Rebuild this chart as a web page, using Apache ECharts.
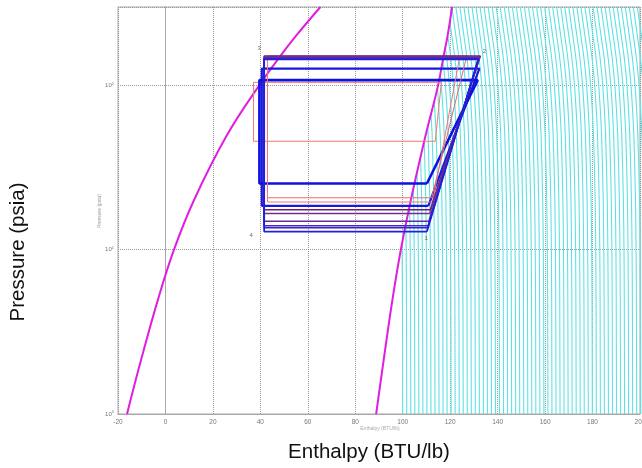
<!DOCTYPE html>
<html><head><meta charset="utf-8">
<script src="https://cdn.jsdelivr.net/npm/echarts@6/dist/echarts.min.js"></script>
<style>html,body{margin:0;padding:0;background:#fff}#c{width:642px;height:468px}</style>
</head><body><div id="c"></div>
<script>
// Saturation dome (pressure psia, enthalpy BTU/lb)
const SAT_P = [1, 2, 5, 10, 20, 50, 100, 150, 200, 300];
const SAT_LIQ_H = [-16.2, -10.8, -3.1, 3.6, 12.0, 26.0, 39.5, 48.3, 55.0, 65.3];
const SAT_VAP_H = [88.8, 91.7, 95.7, 99.2, 103.4, 109.7, 114.9, 117.2, 118.9, 120.8];
// Superheated isotherms: enthalpy at 1 psia, and how far each bends left at the SAT_P pressures
const ISO_BASE_H = [100.0, 101.7, 103.4, 105.1, 106.8, 108.5, 110.2, 111.9, 113.6, 115.3, 117.0, 118.7,
  120.4, 122.1, 123.8, 125.5, 127.2, 128.9, 130.6, 132.3, 134.0, 135.7, 137.4, 139.1, 140.8, 142.5,
  144.2, 145.9, 147.6, 149.3, 151.0, 152.7, 154.4, 156.1, 157.8, 159.5, 161.2, 162.9, 164.6, 166.3,
  168.0, 169.7, 171.4, 173.1, 174.8, 176.5, 178.2, 179.9, 181.6, 183.3, 185.0, 186.7, 188.4, 190.1,
  191.8, 193.5, 195.2, 196.9, 198.6, 200.3, 202.0, 203.7, 205.4];
const ISO_BEND = [0, 0.05, 0.12, 0.25, 0.5, 1.2, 2.4, 3.6, 4.8, 6.5];
// Refrigeration cycles: state 1 (h1, pLow), 2 (h2, pHigh), 3 (h3, pHigh), 4 (h3, pLow)
const CYCLE_H1 = [113.7, 110.8, 110.2, 112.2, 112.6, 111.6, 111.4, 111.0, 110.7, 110.5, 110.2];
const CYCLE_H2 = [116.3, 132.3, 131.6, 127.0, 124.0, 132.7, 132.5, 132.3, 132.0, 131.9, 131.8];
const CYCLE_H3 = [37.1, 40.6, 39.6, 43.0, 43.0, 41.6, 41.6, 41.6, 41.6, 41.6, 41.6];
const CYCLE_P_LOW = [45.7, 18.5, 25.3, 20.7, 19.5, 17.5, 16.6, 14.9, 14.0, 13.6, 12.9];
const CYCLE_P_HIGH = [104.3, 126.4, 107.7, 151, 149, 151, 149, 147.6, 146, 145, 144.1];
// State labels
const STATE_NAMES = ['1', '2', '3', '4'];
const STATE_H = [109.9, 134.4, 39.5, 36.1];
const STATE_P = [11.8, 161, 168, 12.2];

const CYCLE_STYLE = [
  {c: '#f07a6a', w: 1}, {c: '#1818e0', w: 2.2}, {c: '#1010e0', w: 2.6},
  {c: '#e86a6a', w: 1}, {c: '#e87878', w: 1},
  {c: '#6a2078', w: 1.5}, {c: '#7a2a88', w: 1.5}, {c: '#6a2aa0', w: 1.5},
  {c: '#4a28c0', w: 1.5}, {c: '#3522cc', w: 1.5}, {c: '#2020dc', w: 1.8}
];

const series = [];
ISO_BASE_H.forEach(b => {
  const pts = [];
  for (let i = 0; i < SAT_P.length; i++) {
    const h = b - ISO_BEND[i];
    const d = h - SAT_VAP_H[i];
    if (d >= 0) { pts.push([h, SAT_P[i]]); }
    else {
      if (i > 0) {
        const hp = b - ISO_BEND[i - 1], dp = hp - SAT_VAP_H[i - 1];
        const t = dp / (dp - d);
        const lp = Math.log10(SAT_P[i - 1]) + t * (Math.log10(SAT_P[i]) - Math.log10(SAT_P[i - 1]));
        pts.push([hp + t * (h - hp), Math.pow(10, lp)]);
      }
      break;
    }
  }
  series.push({type: 'line', data: pts, symbol: 'none', smooth: 0.2, silent: true, z: 1,
    lineStyle: {color: '#5ee2e2', width: 1.1}});
});
series.push({type: 'line', data: SAT_P.map((p, i) => [SAT_LIQ_H[i], p]), symbol: 'none', smooth: 0.4, z: 3,
  lineStyle: {color: '#e01ee0', width: 2}});
series.push({type: 'line', data: SAT_P.map((p, i) => [SAT_VAP_H[i], p]), symbol: 'none', smooth: 0.4, z: 3,
  lineStyle: {color: '#e01ee0', width: 2}});
CYCLE_H1.forEach((h1, i) => {
  const pl = CYCLE_P_LOW[i], ph = CYCLE_P_HIGH[i];
  series.push({type: 'line', symbol: 'none', z: 4 + i,
    data: [[h1, pl], [CYCLE_H2[i], ph], [CYCLE_H3[i], ph], [CYCLE_H3[i], pl], [h1, pl]],
    lineStyle: {color: CYCLE_STYLE[i].c, width: CYCLE_STYLE[i].w}});
});
series.push({type: 'scatter', symbolSize: 0, z: 30,
  data: STATE_NAMES.map((n, i) => ({value: [STATE_H[i], STATE_P[i]], name: n})),
  label: {show: true, formatter: p => p.name, fontSize: 6, color: '#444', fontFamily: 'Liberation Sans'}});

const chart = echarts.init(document.getElementById('c'));
chart.setOption({
  animation: false,
  backgroundColor: '#fff',
  grid: {left: 118, right: 2, top: 7, bottom: 54, show: true, borderColor: '#a8a8a8', borderWidth: 1,
    containLabel: false, outerBoundsMode: 'none'},
  xAxis: {type: 'value', min: -20, max: 200, interval: 20,
    axisLine: {lineStyle: {color: '#a8a8a8'}}, axisTick: {show: false},
    axisLabel: {fontSize: 6.5, color: '#777', margin: 5, fontFamily: 'Liberation Sans'},
    splitLine: {show: true, lineStyle: {color: '#9a9a9a', type: 'dotted', width: 1}}},
  yAxis: {type: 'log', logBase: 10, min: 1, max: 300,
    axisLine: {lineStyle: {color: '#a8a8a8'}}, axisTick: {show: false},
    axisLabel: {margin: 4, formatter: v => {
      const e = Math.round(Math.log10(v));
      if (Math.abs(Math.log10(v) - e) > 1e-6) return '';
      return '{b|10}{s|' + e + '}';
    }, rich: {b: {fontSize: 6, color: '#777', fontFamily: 'Liberation Sans'},
              s: {fontSize: 4, color: '#777', verticalAlign: 'top', padding: [0, 0, 4, 0], fontFamily: 'Liberation Sans'}}},
    splitLine: {show: true, lineStyle: {color: '#9a9a9a', type: 'dotted', width: 1}}},
  graphic: [
    {type: 'text', x: 18, y: 252, rotation: Math.PI / 2,
      style: {text: 'Pressure (psia)', fontSize: 20.5, fontFamily: 'Liberation Sans', fill: '#111', align: 'center', verticalAlign: 'middle'}},
    {type: 'text', x: 369, y: 452,
      style: {text: 'Enthalpy (BTU/lb)', fontSize: 20.5, fontFamily: 'Liberation Sans', fill: '#111', align: 'center', verticalAlign: 'middle'}},
    {type: 'text', x: 100, y: 211, rotation: Math.PI / 2,
      style: {text: 'Pressure (psia)', fontSize: 5, fontFamily: 'Liberation Sans', fill: '#999', align: 'center', verticalAlign: 'middle'}},
    {type: 'text', x: 380, y: 429,
      style: {text: 'Enthalpy (BTU/lb)', fontSize: 5, fontFamily: 'Liberation Sans', fill: '#aaa', align: 'center', verticalAlign: 'middle'}}
  ],
  series: series
});
</script></body></html>
